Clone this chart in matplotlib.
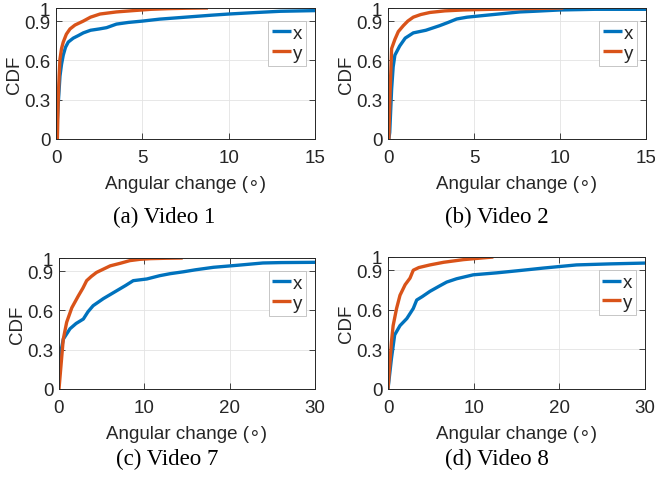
import matplotlib
matplotlib.use("Agg")
import matplotlib.pyplot as plt
import numpy as np

# ---------------- data ----------------
captions = ["(a) Video 1", "(b) Video 2", "(c) Video 7", "(d) Video 8"]
xmax_vals = [15, 15, 30, 30]
xticks_list = [[0, 5, 10, 15], [0, 5, 10, 15], [0, 10, 20, 30], [0, 10, 20, 30]]
yticks = [0, 0.3, 0.6, 0.9, 1]
ytick_labels = ["0", "0.3", "0.6", "0.9", "1"]

# Video 1
v1_x_ang = [0.0, 0.05, 0.12, 0.23, 0.32, 0.42, 0.55, 0.71, 1.0, 1.3, 1.58, 2.0, 2.5, 2.93, 3.5, 4.2, 5.0, 6.0, 7.0, 8.0, 9.0, 10.0, 11.5, 13.0, 15.0]
v1_x_cdf = [0.0, 0.08, 0.25, 0.48, 0.57, 0.64, 0.70, 0.74, 0.77, 0.79, 0.81, 0.83, 0.84, 0.85, 0.877, 0.89, 0.90, 0.915, 0.925, 0.935, 0.945, 0.954, 0.965, 0.975, 0.98]
v1_y_ang = [0.08, 0.13, 0.18, 0.23, 0.32, 0.42, 0.6, 0.81, 1.1, 1.58, 2.0, 2.55, 3.5, 4.47, 5.5, 6.5, 7.5, 8.8]
v1_y_cdf = [0.0, 0.305, 0.48, 0.61, 0.69, 0.74, 0.80, 0.84, 0.87, 0.90, 0.93, 0.954, 0.97, 0.98, 0.99, 0.995, 0.998, 1.0]

# Video 2
v2_x_ang = [0.05, 0.1, 0.21, 0.3, 0.4, 0.68, 1.0, 1.47, 2.2, 3.0, 3.5, 3.99, 4.6, 5.35, 6.5, 7.67, 8.5, 10.0, 12.0, 15.0]
v2_x_cdf = [0.0, 0.05, 0.38, 0.55, 0.64, 0.71, 0.77, 0.81, 0.83, 0.865, 0.89, 0.916, 0.93, 0.94, 0.955, 0.97, 0.975, 0.985, 0.99, 0.99]
v2_y_ang = [0.05, 0.12, 0.21, 0.4, 0.6, 0.89, 1.15, 1.47, 1.9, 2.44, 3.3, 4.38, 6.0, 8.0, 10.2]
v2_y_cdf = [0.0, 0.35, 0.69, 0.76, 0.82, 0.865, 0.90, 0.93, 0.95, 0.966, 0.978, 0.985, 0.99, 0.995, 1.0]

# Video 7
v7_x_ang = [0.0, 0.12, 0.5, 1.29, 2.0, 2.85, 3.4, 4.0, 5.2, 6.76, 7.8, 8.7, 10.3, 11.8, 13.0, 14.6, 16.0, 18.1, 21.0, 23.9, 26.0, 30.0]
v7_x_cdf = [0.03, 0.25, 0.38, 0.46, 0.50, 0.534, 0.59, 0.636, 0.69, 0.75, 0.79, 0.827, 0.84, 0.865, 0.88, 0.895, 0.91, 0.929, 0.945, 0.962, 0.965, 0.967]
v7_y_ang = [0.0, 0.3, 0.5, 0.9, 1.5, 2.26, 2.8, 3.24, 3.8, 4.4, 5.2, 6.0, 7.2, 8.3, 9.5, 10.7, 12.5, 14.5]
v7_y_cdf = [0.0, 0.23, 0.38, 0.51, 0.62, 0.71, 0.77, 0.827, 0.86, 0.89, 0.915, 0.94, 0.96, 0.98, 0.99, 0.995, 0.998, 1.0]

# Video 8
v8_x_ang = [0.0, 0.4, 0.78, 1.4, 2.2, 2.95, 3.35, 4.0, 4.9, 6.0, 6.85, 8.0, 9.95, 12.7, 15.0, 16.5, 18.1, 22.0, 26.0, 30.0]
v8_x_cdf = [0.0, 0.23, 0.41, 0.48, 0.534, 0.61, 0.674, 0.70, 0.74, 0.78, 0.81, 0.835, 0.865, 0.88, 0.895, 0.905, 0.916, 0.94, 0.948, 0.954]
v8_y_ang = [0.0, 0.4, 0.6, 1.0, 1.4, 2.0, 2.57, 2.95, 3.6, 4.9, 6.5, 8.8, 10.5, 12.3]
v8_y_cdf = [0.0, 0.356, 0.48, 0.61, 0.71, 0.79, 0.84, 0.90, 0.92, 0.94, 0.96, 0.98, 0.99, 1.0]

series_x = [(v1_x_ang, v1_x_cdf), (v2_x_ang, v2_x_cdf), (v7_x_ang, v7_x_cdf), (v8_x_ang, v8_x_cdf)]
series_y = [(v1_y_ang, v1_y_cdf), (v2_y_ang, v2_y_cdf), (v7_y_ang, v7_y_cdf), (v8_y_ang, v8_y_cdf)]

# ---------------- styling ----------------
W, H = 655, 481
BLUE = "#0072BD"
ORANGE = "#D95319"
DARK = "#262626"
SANS = ["Liberation Sans", "DejaVu Sans"]
SERIF = ["Liberation Serif", "DejaVu Serif"]
plt.rcParams["font.family"] = SANS
FS = 13.5

fig = plt.figure(figsize=(W / 100, H / 100), dpi=100)

# axes boxes in pixels: left, right, top, bottom
boxes = [(56, 315, 9, 140), (388, 646, 9, 140), (59, 315, 259, 390), (388, 645, 258, 390)]
cap_pos = [(164, 217), (497, 217), (167, 459), (497, 459)]

for i in range(4):
    l, r, t, b = boxes[i]
    ax = fig.add_axes([l / W, 1 - b / H, (r - l) / W, (b - t) / H])
    xa, ya = series_x[i]
    xb, yb = series_y[i]
    ax.plot(xa, ya, color=BLUE, lw=2.4, label="x", solid_capstyle="butt")
    ax.plot(xb, yb, color=ORANGE, lw=2.4, label="y", solid_capstyle="butt")
    ax.set_xlim(0, xmax_vals[i])
    ax.set_ylim(0, 1)
    ax.set_xticks(xticks_list[i])
    ax.set_yticks(yticks)
    ax.set_yticklabels(ytick_labels)
    ax.grid(True, color="#e3e3e3", lw=0.6)
    ax.set_axisbelow(True)
    ax.tick_params(direction="in", length=4, width=0.6, colors=DARK,
                   labelsize=FS, top=True, right=True)
    ax.tick_params(axis="x", pad=7)
    ax.tick_params(axis="y", pad=4)
    for s in ax.spines.values():
        s.set_color(DARK)
        s.set_linewidth(0.7)
    ax.set_xlabel("Angular change (\u2218)", fontsize=FS, color=DARK, labelpad=7)
    ax.set_ylabel("CDF", fontsize=FS, color=DARK, labelpad=1)
    leg = ax.legend(loc="upper right", bbox_to_anchor=(0.965, 0.9), borderaxespad=0,
                    fontsize=FS, handlelength=1.0, handletextpad=0.1,
                    labelspacing=0.15, borderpad=0.2, fancybox=False,
                    framealpha=1, edgecolor="#bdbdbd")
    leg.get_frame().set_linewidth(0.6)
    for txt in leg.get_texts():
        txt.set_color(DARK)
    cx, cy = cap_pos[i]
    fig.text(cx / W, 1 - cy / H, captions[i], ha="center", va="center",
             fontsize=16.5, family=SERIF, color="black")

fig.savefig("out.png", dpi=100)
